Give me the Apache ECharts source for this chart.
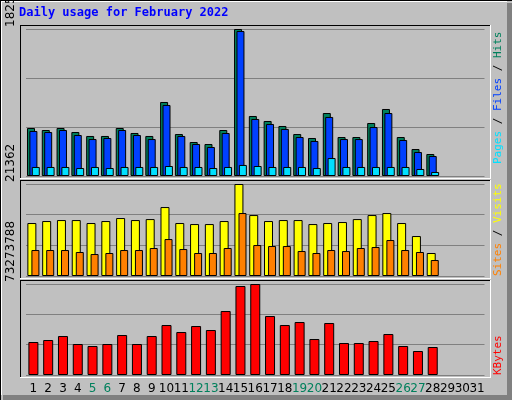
<!DOCTYPE html>
<html><head><meta charset="utf-8">
<script src="https://cdn.jsdelivr.net/npm/echarts@6/dist/echarts.min.js"></script>
<style>html,body{margin:0;padding:0;background:#c0c0c0}#c{width:512px;height:400px}</style>
</head><body><div id="c"></div>
<script>
const days = Array.from({length:31},(_,i)=>String(i+1));
const hits = [596000,571000,596000,546000,497000,497000,596000,534000,497000,919000,521000,422000,397000,571000,1825206,745000,683000,621000,521000,472000,782000,484000,484000,658000,832000,484000,335000,273000];
const files = [559000,546000,571000,509000,459000,472000,571000,509000,459000,882000,497000,397000,360000,534000,1800000,708000,646000,584000,484000,435000,733000,459000,459000,608000,782000,447000,298000,248000];
const pages = [112000,112000,112000,99000,112000,99000,112000,112000,112000,124000,112000,112000,99000,112000,137000,124000,112000,112000,112000,99000,223000,112000,112000,112000,112000,112000,87000,50000];
const visits = [12300,12760,12990,12990,12300,12760,13460,12990,13220,16010,12300,12060,12060,12760,21362,14150,12760,12990,12990,12060,12300,12530,13220,14150,14620,12300,9280,5340];
const sites = [6030,6030,6030,5570,5100,5340,6030,6030,6500,8580,6260,5340,5340,6500,14620,7190,6960,6960,5800,5340,6030,5800,6500,6730,8350,6030,5570,3710];
const kbytes = [26560000,28170000,31390000,24950000,23340000,24950000,32190000,24950000,31390000,40240000,34610000,39440000,36220000,51510000,71660000,73273788,47490000,40240000,42660000,28970000,41850000,25750000,25750000,27360000,33000000,23340000,19320000,22540000];
const weekend = [5,6,12,13,19,20,26,27];
const maxes = [1825206, 21362, 73273788];

const gridL = 26, gridW = 458.5;
const grids = [
  {left:gridL, width:gridW, top:29, height:147},
  {left:gridL, width:gridW, top:184, height:92},
  {left:gridL, width:gridW, top:284, height:91}
];
const xAxes = grids.map((g,i)=>({
  type:'category', gridIndex:i, data:days, boundaryGap:true,
  axisLine:{show:false}, axisTick:{show:false},
  axisLabel:{show:i===2, margin:8, fontFamily:'DejaVu Sans', fontSize:12,
    color:(v)=>weekend.includes(+v)?'#00805c':'#000', interval:0}
}));
const yAxes = grids.map((g,i)=>({
  type:'value', gridIndex:i, min:0, max:maxes[i], interval:maxes[i]/3,
  axisLine:{show:false}, axisTick:{show:false}, axisLabel:{show:false},
  splitLine:{show:true, lineStyle:{color:'#808080', width:1}}
}));
const bs = {borderColor:'#000', borderWidth:1};
const series = [
  {type:'bar', xAxisIndex:0, yAxisIndex:0, data:hits, barWidth:8, barGap:'-70%', itemStyle:{color:'#00805c',...bs}},
  {type:'bar', xAxisIndex:0, yAxisIndex:0, data:files, barWidth:8, barGap:'-70%', itemStyle:{color:'#0040ff',...bs}},
  {type:'bar', xAxisIndex:0, yAxisIndex:0, data:pages, barWidth:8, barGap:'-70%', itemStyle:{color:'#00e0ff',...bs}},
  {type:'bar', xAxisIndex:1, yAxisIndex:1, data:visits, barWidth:9, barGap:'-55%', itemStyle:{color:'#ffff00',...bs}},
  {type:'bar', xAxisIndex:1, yAxisIndex:1, data:sites, barWidth:8, barGap:'-55%', itemStyle:{color:'#ff8000',...bs}},
  {type:'bar', xAxisIndex:2, yAxisIndex:2, data:kbytes, barWidth:10, itemStyle:{color:'#ff0000',...bs}}
];
series.forEach(s=>{s.animation=false; s.silent=true;});

const panels = [[25,178],[180,278],[280,377]];
const lineEls = [];
function ln(x1,y1,x2,y2,c,w){lineEls.push({type:'line',shape:{x1,y1,x2,y2},style:{stroke:c,lineWidth:w||1},z:10});}
// outer frame
ln(0.5,0,0.5,400,'#000');ln(0,0.5,512,0.5,'#000');
ln(1.5,1,1.5,395,'#fff');ln(1,1.5,507,1.5,'#fff');
lineEls.push({type:'rect',shape:{x:507,y:3,width:5,height:397},style:{fill:'#808080'},z:9});
lineEls.push({type:'rect',shape:{x:3,y:395,width:509,height:5},style:{fill:'#808080'},z:9});
panels.forEach(([t,b])=>{
  ln(20,t+0.5,491,t+0.5,'#000'); ln(20.5,t,20.5,b,'#000');
  ln(20,b+0.5,491,b+0.5,'#fff'); ln(490.5,t,490.5,b+1,'#fff');
});
lineEls.push({type:'rect',shape:{x:20,y:25,width:471,height:353},style:{fill:'#c0c0c0'},z:-1});
const txt = [
  {type:'text',left:19,top:7,style:{text:'Daily usage for February 2022',fill:'#0000ff',font:'bold 12px "DejaVu Sans Mono"'},z:20},
  {type:'text',x:17,y:27,rotation:Math.PI/2,style:{text:'1825206',fill:'#000',font:'12px "DejaVu Sans"',align:'left',verticalAlign:'bottom'},z:20},
  {type:'text',x:17,y:182,rotation:Math.PI/2,style:{text:'21362',fill:'#000',font:'12px "DejaVu Sans"',align:'left',verticalAlign:'bottom'},z:20},
  {type:'text',x:17,y:282,rotation:Math.PI/2,style:{text:'73273788',fill:'#000',font:'12px "DejaVu Sans"',align:'left',verticalAlign:'bottom'},z:20},
  {type:'text',x:493,y:164,rotation:Math.PI/2,style:{text:'{a|Pages} {s|/} {b|Files} {s|/} {c|Hits}',font:'11px "DejaVu Sans Mono"',align:'left',verticalAlign:'top',
    rich:{a:{fill:'#00e0ff',font:'11px "DejaVu Sans Mono"'},b:{fill:'#0040ff',font:'11px "DejaVu Sans Mono"'},c:{fill:'#00805c',font:'11px "DejaVu Sans Mono"'},s:{fill:'#000',font:'11px "DejaVu Sans Mono"'}}},z:20},
  {type:'text',x:493,y:276,rotation:Math.PI/2,style:{text:'{a|Sites} {s|/} {b|Visits}',font:'11px "DejaVu Sans Mono"',align:'left',verticalAlign:'top',
    rich:{a:{fill:'#ff8000',font:'11px "DejaVu Sans Mono"'},b:{fill:'#ffff00',font:'11px "DejaVu Sans Mono"'},s:{fill:'#000',font:'11px "DejaVu Sans Mono"'}}},z:20},
  {type:'text',x:493,y:375,rotation:Math.PI/2,style:{text:'KBytes',fill:'#ff0000',font:'11px "DejaVu Sans Mono"',align:'left',verticalAlign:'top'},z:20}
];
const chart = echarts.init(document.getElementById('c'),null,{renderer:'canvas'});
chart.setOption({
  backgroundColor:'#c0c0c0', animation:false,
  grid:grids, xAxis:xAxes, yAxis:yAxes, series,
  graphic:[...lineEls,...txt]
});
</script></body></html>
